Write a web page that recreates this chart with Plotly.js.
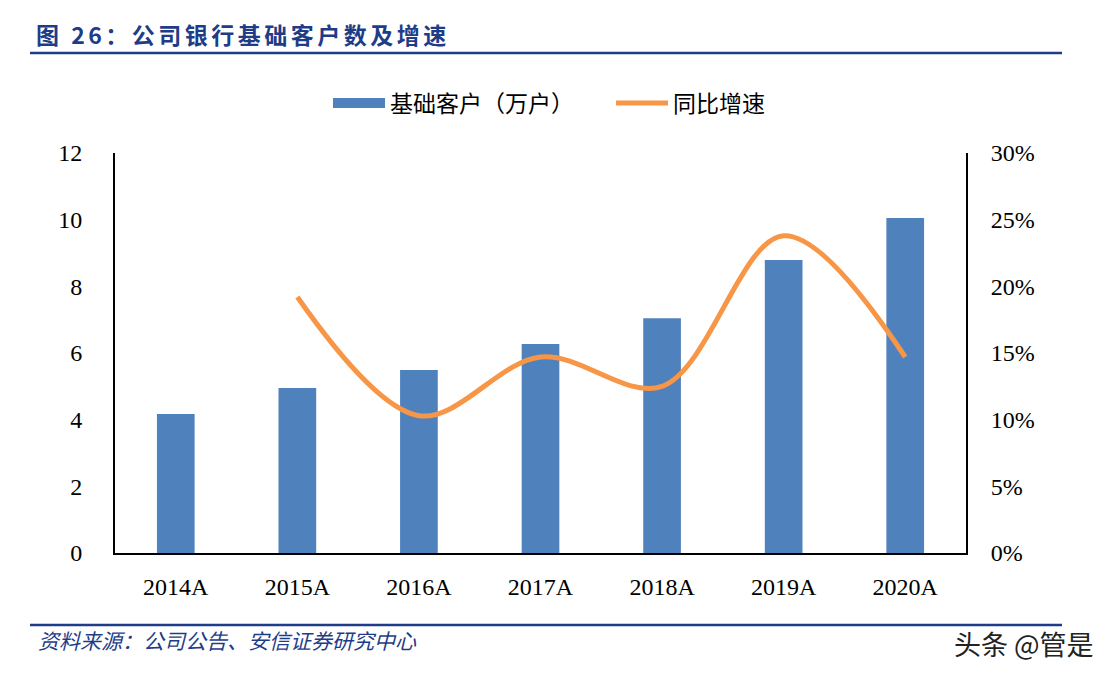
<!DOCTYPE html>
<html>
<head>
<meta charset="utf-8">
<script src="https://cdn.plot.ly/plotly-3.0.1.min.js"></script>
<style>
  html, body { margin: 0; padding: 0; background: #fff; }
  #chart { width: 1115px; height: 676px; }
  #chart .gtitle { letter-spacing: 3.5px; }
</style>
</head>
<body>
<div id="chart"></div>
<script>
// 数据
let years = ['2014A', '2015A', '2016A', '2017A', '2018A', '2019A', '2020A'];
let customers = [4.17, 4.95, 5.49, 6.27, 7.04, 8.79, 10.05];   // 基础客户（万户）
let growth = [null, 0.192, 0.103, 0.147, 0.125, 0.238, 0.147];  // 同比增速

let blue = '#4f81bd';
let orange = '#f79646';
let navy = '#1f3c88';
let serif = 'Times New Roman, Liberation Serif, serif';
let cjk = 'Noto Sans CJK SC, sans-serif';

let barTrace = {
    type: 'bar',
    name: '基础客户（万户）',
    x: years,
    y: customers,
    marker: { color: blue },
    showlegend: false,
    hoverinfo: 'x+y'
};

// 图例用的色块
let barLegend = {
    type: 'scatter',
    mode: 'lines',
    name: '基础客户（万户）',
    x: [null],
    y: [null],
    line: { color: blue, width: 11 },
    hoverinfo: 'skip'
};

let lineTrace = {
    type: 'scatter',
    mode: 'lines',
    name: '同比增速',
    x: years,
    y: growth,
    yaxis: 'y2',
    line: { color: orange, width: 5, shape: 'spline', smoothing: 1 },
    connectgaps: false
};

let layout = {
    width: 1115,
    height: 676,
    autosize: false,
    paper_bgcolor: '#fff',
    plot_bgcolor: '#fff',
    margin: { l: 115, r: 149, t: 153, b: 123 },
    bargap: 0.69,
    title: {
        text: '图 26：公司银行基础客户数及增速',
        xref: 'container', yref: 'container',
        x: 36 / 1115, xanchor: 'left',
        y: 1 - 36 / 676, yanchor: 'middle',
        font: { family: cjk, size: 23, color: navy, weight: 700 }
    },
    legend: {
        orientation: 'h',
        xref: 'container', yref: 'container',
        x: 328 / 1115, xanchor: 'left',
        y: 1 - 103 / 676, yanchor: 'middle',
        itemwidth: 52,
        entrywidth: 216,
        font: { family: cjk, size: 23, color: '#000' },
        traceorder: 'normal'
    },
    xaxis: {
        type: 'category',
        showline: true, linecolor: '#000', linewidth: 2,
        ticks: '', showgrid: false, zeroline: false,
        tickfont: { family: serif, size: 24, color: '#000' },
        ticklabelstandoff: 11,
        fixedrange: true
    },
    yaxis: {
        range: [0, 12], dtick: 2,
        showline: true, linecolor: '#000', linewidth: 2,
        ticks: '', showgrid: false, zeroline: false,
        tickfont: { family: serif, size: 24, color: '#000' },
        ticklabelstandoff: 26,
        fixedrange: true
    },
    yaxis2: {
        overlaying: 'y', side: 'right',
        range: [0, 0.3], dtick: 0.05, tickformat: '.0%',
        showline: true, linecolor: '#000', linewidth: 2,
        ticks: '', showgrid: false, zeroline: false,
        tickfont: { family: serif, size: 24, color: '#000' },
        ticklabelstandoff: 18,
        fixedrange: true
    },
    shapes: [
        {
            type: 'line', xref: 'paper', yref: 'paper',
            x0: (30 - 115) / 851, x1: (1062 - 115) / 851,
            y0: (553 - 53) / 400, y1: (553 - 53) / 400,
            line: { color: navy, width: 2.5 }
        },
        {
            type: 'line', xref: 'paper', yref: 'paper',
            x0: (30 - 115) / 851, x1: (1062 - 115) / 851,
            y0: (553 - 625) / 400, y1: (553 - 625) / 400,
            line: { color: navy, width: 2.5 }
        }
    ],
    annotations: [
        {
            xref: 'paper', yref: 'paper',
            x: (36 - 115) / 851, xanchor: 'left',
            y: (553 - 640) / 400, yanchor: 'middle',
            text: '<i>资料来源：公司公告、安信证券研究中心</i>',
            showarrow: false,
            font: { family: cjk, size: 21, color: navy }
        },
        {
            xref: 'paper', yref: 'paper',
            x: (1096 - 115) / 851, xanchor: 'right',
            y: (553 - 643) / 400, yanchor: 'middle',
            text: '头条 @管是',
            showarrow: false,
            font: { family: cjk, size: 27, color: '#222' }
        }
    ]
};

Plotly.newPlot('chart', [barTrace, barLegend, lineTrace], layout, { displayModeBar: false, staticPlot: true });
</script>
</body>
</html>
